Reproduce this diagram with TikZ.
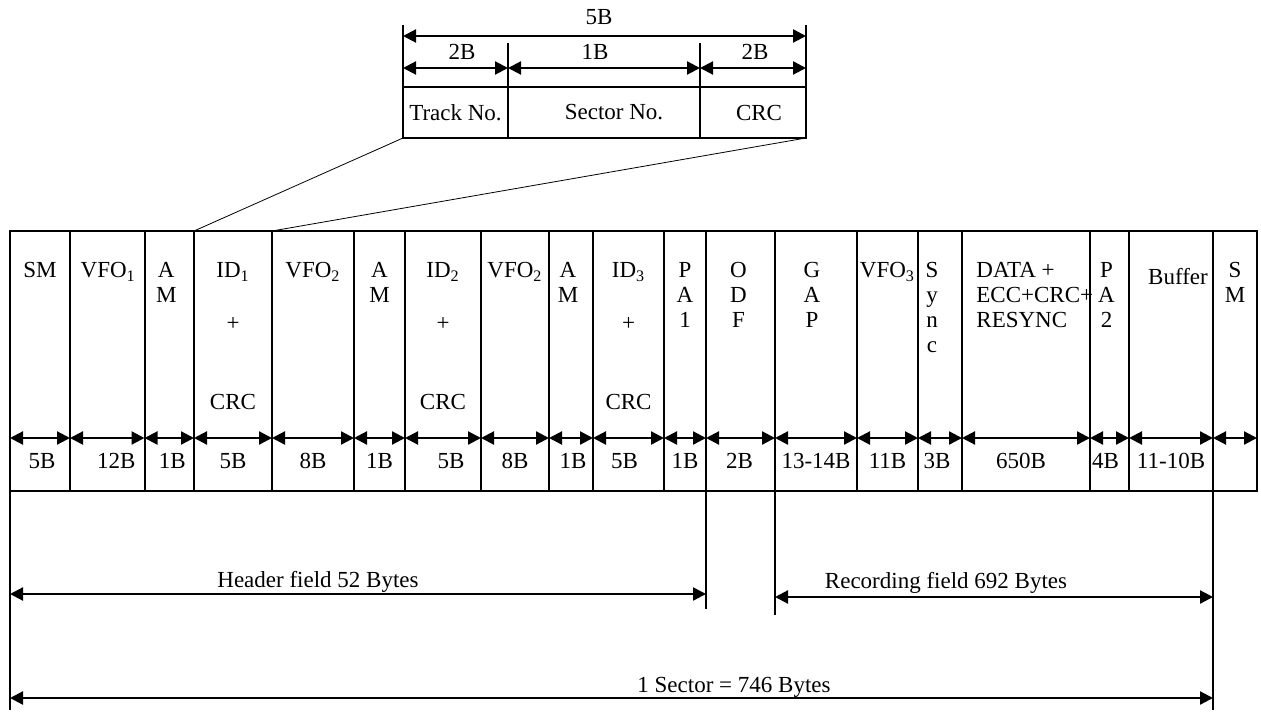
\documentclass[tikz,border=0pt]{standalone}
\usepackage{fontspec}
\setmainfont{Liberation Serif}
\usetikzlibrary{arrows.meta,positioning}
\newcommand{\lblfont}{\fontsize{11.5}{12.5}\selectfont}

\begin{document}
\begin{tikzpicture}[
    x=0.5pt, y=-0.5pt,
    cell/.style={rectangle, draw, line width=1pt, inner sep=0pt, outer sep=0pt, minimum height=130pt, anchor=north west},
    idbox/.style={rectangle, draw, line width=1pt, inner sep=0pt, outer sep=0pt, minimum height=25.5pt, anchor=north west, font=\lblfont},
    lbl/.style={inner sep=0pt, align=center, font=\lblfont},
    dim/.style={{Triangle[length=6.5pt,width=6.5pt]}-{Triangle[length=6.5pt,width=6.5pt]}, line width=1.1pt},
    ext/.style={line width=0.8pt}
]
    \useasboundingbox (0,0) rectangle (1261,711);
    \coordinate (row) at (0,438);

    % sector fields
    \foreach \n/\l/\r/\tx/\bx/\ts/\bs in {
        1/10/70/SM/5B/0/2,
        2/70/144.5/VFO\textsubscript{1}/12B/1/9,
        3/144.5/194/{A\\M}/1B/-3/3,
        4/194/272/{ID\textsubscript{1}\\[14pt]+\\[27pt]CRC}/5B/0/0,
        5/272/354/VFO\textsubscript{2}/8B/0/0,
        6/354/405/{A\\M}/1B/0/0,
        7/405/481/{ID\textsubscript{2}\\[14pt]+\\[27pt]CRC}/5B/0/8,
        8/481/549/VFO\textsubscript{2}/8B/0/0,
        9/549/593/{A\\M}/1B/-3/2,
        10/593/664/{ID\textsubscript{3}\\[14pt]+\\[27pt]CRC}/5B/0/-4,
        11/664/706/{P\\A\\1}/1B/0/0,
        12/706/775/{O\\D\\F}/2B/-2/-1,
        13/775/857/{G\\A\\P}/13-14B/-4/0,
        14/857/918/VFO\textsubscript{3}/11B/0/0,
        15/918/962/{S\\y\\n\\c}/3B/-8/-3,
        16/962/1090/{}/650B/0/-5,
        17/1090/1129/{P\\A\\2}/4B/-3/-4,
        18/1129/1213/{\rule{0pt}{11pt}Buffer}/11-10B/7/0,
        19/1213/1257/{S\\M}/{}/0/0%
    } {
        \node[cell, minimum width={(\r-\l)*0.5pt}] (c\n) at (\l,231) {};
        \node[lbl, below=15.5pt of c\n.north, xshift={\ts*0.5pt}] (u\n) {\tx};
        \node[lbl, above=11.5pt of c\n.south, anchor=base, xshift={\bs*0.5pt}] (v\n) {\bx};
        \draw[dim] (c\n.west |- row) -- (c\n.east |- row);
    }
    \node[lbl, align=left, anchor=north west] (data) at (976,262) {DATA +\\ECC+CRC+\\RESYNC};

    % ID field detail
    \node[idbox, minimum width=52.5pt] (b1) at (403,87) {Track No.};
    \node[idbox, minimum width=96pt] (b2) at (508,87) {\hspace*{10pt}Sector No.};
    \node[idbox, minimum width=53pt] (b3) at (700,87) {\hspace*{6pt}CRC};
    \coordinate (l5) at (0,25);
    \coordinate (l2) at (0,43);
    \coordinate (a5) at (0,36);
    \coordinate (a2) at (0,68);
    \draw[ext] (b1.north west) -- (b1.north west |- l5);
    \draw[ext] (b3.north east) -- (b3.north east |- l5);
    \draw[ext] (b2.north west) -- (b2.north west |- l2);
    \draw[ext] (b2.north east) -- (b2.north east |- l2);
    \draw[dim] (b1.west |- a5) -- (b3.east |- a5);
    \foreach \b in {1,2,3}
        \draw[dim] (b\b.west |- a2) -- (b\b.east |- a2);
    \node[lbl, anchor=base] (w5) at (599,25) {5B};
    \node[lbl, anchor=base] (w1) at (462,60) {2B};
    \node[lbl, anchor=base] (w2) at (595,60) {1B};
    \node[lbl, anchor=base] (w3) at (755,60) {2B};
    \draw[thin] (b1.south west) -- (c4.north west);
    \draw[thin] (b3.south east) -- (c5.north west);

    % field lengths
    \coordinate (hf) at (0,594);
    \coordinate (rf) at (0,597);
    \coordinate (sc) at (0,698);
    \coordinate (btm) at (0,710);
    \coordinate (e1) at (706,609);
    \coordinate (e2) at (775,615);
    \draw[ext] (c1.south west) -- (c1.south west |- btm);
    \draw[ext] (c19.south west) -- (c19.south west |- btm);
    \draw[ext] (c12.south west) -- (e1);
    \draw[ext] (c13.south west) -- (e2);
    \draw[dim] (c1.west |- hf) -- (c12.west |- hf);
    \draw[dim] (c13.west |- rf) -- (c19.west |- rf);
    \draw[dim] (c1.west |- sc) -- (c19.west |- sc);
    \node[lbl, anchor=base] (hdr) at (318,587) {Header field 52 Bytes};
    \node[lbl, anchor=base] (rec) at (946,588) {Recording field 692 Bytes};
    \node[lbl, anchor=base] (sec) at (734,692) {1 Sector = 746 Bytes};
\end{tikzpicture}
\end{document}
